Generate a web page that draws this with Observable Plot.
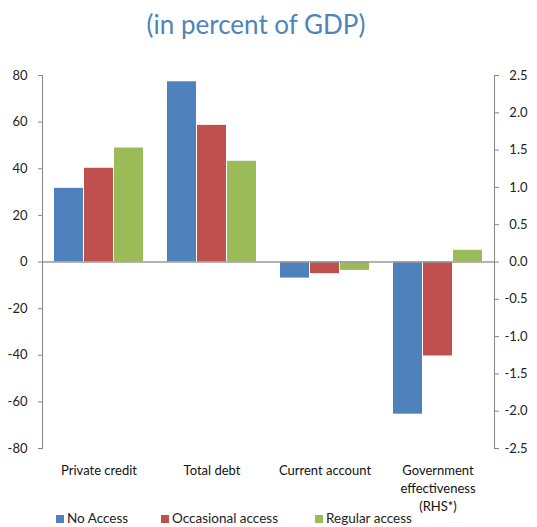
<!DOCTYPE html>
<html>
<head>
<meta charset="utf-8">
<script src="https://cdn.jsdelivr.net/npm/d3@7"></script>
<script src="https://cdn.jsdelivr.net/npm/@observablehq/plot@0.6"></script>
<style>
  body { margin: 0; background: #fff; font-family: Lato, "Open Sans", sans-serif; }
  #wrap { width: 537px; height: 527px; position: relative; overflow: hidden; }
  #title { height: 51px; box-sizing: border-box; padding-top: 4px; padding-right: 25px; line-height: 40px; text-align: center; font-size: 26px; color: #4f84bb; }
  #chart { position: absolute; top: 51px; left: 0; }
  #legend { position: absolute; top: 510px; left: 0; width: 537px; height: 17px; font-size: 13.5px; color: #222; }
  .item { position: absolute; top: 0; line-height: 17px; white-space: nowrap; }
  .sw { display: inline-block; width: 8px; height: 8px; margin-right: 3px; vertical-align: 0px; }
</style>
</head>
<body>
<div id="wrap">
  <div id="title">(in percent of GDP)</div>
  <div id="chart"></div>
  <div id="legend"></div>
</div>
<script>
const categories = ["Private credit", "Total debt", "Current account", "Government effectiveness (RHS*)"];
const categoryLabels = ["Private credit", "Total debt", "Current account", "Government\neffectiveness\n(RHS*)"];
const onRightAxis = [false, false, false, true];
const series = ["No Access", "Occasional access", "Regular access"];
const colors = ["#4F81BD", "#C0504D", "#9BBB59"];
const noAccess = [31.6, 77.3, -6.9, -2.04];
const occasionalAccess = [40.2, 58.6, -5.0, -1.26];
const regularAccess = [48.9, 43.2, -3.6, 0.157];
const leftTicks = [-80, -60, -40, -20, 0, 20, 40, 60, 80];
const rightTicks = [-2.5, -2.0, -1.5, -1.0, -0.5, 0.0, 0.5, 1.0, 1.5, 2.0, 2.5];
const leftMax = 80, rightMax = 2.5;
const k = leftMax / rightMax;

const seriesValues = [noAccess, occasionalAccess, regularAccess];
const rows = [];
categories.forEach((c, i) => {
  series.forEach((s, j) => {
    const v = seriesValues[j][i];
    rows.push({cat: c, series: s, value: onRightAxis[i] ? v * k : v});
  });
});

const axisGray = "#868686";
const chart = Plot.plot({
  width: 537,
  height: 476,
  marginTop: 24,
  marginBottom: 79,
  marginLeft: 41,
  marginRight: 43,
  style: {fontFamily: "Lato, 'Open Sans', sans-serif", fontSize: "13px", color: "#222", background: "transparent"},
  fx: {domain: categories, paddingInner: 0, paddingOuter: 0, padding: 0, label: null},
  x: {domain: series, paddingInner: 0.03, paddingOuter: 0.35, axis: null},
  y: {domain: [-leftMax, leftMax], label: null},
  color: {domain: series, range: colors},
  marks: [
    Plot.barY(rows, {fx: "cat", x: "series", y: "value", fill: "series"}),
    Plot.ruleY([0], {stroke: "#9a9a9a", strokeWidth: 1.5}),
    Plot.frame({anchor: "left", facetAnchor: "left", stroke: axisGray}),
    Plot.frame({anchor: "right", facetAnchor: "right", stroke: axisGray}),
    Plot.axisY(leftTicks, {anchor: "left", tickSize: 4, tickPadding: 11, stroke: axisGray, fill: "#222", tickFormat: d => String(d), label: null}),
    Plot.axisY(rightTicks.map(t => t * k), {anchor: "right", tickSize: 4, tickPadding: 29, textAnchor: "end", stroke: axisGray, fill: "#222", tickFormat: d => (d / k).toFixed(1), label: null}),
    Plot.axisFx({anchor: "bottom", tickSize: 0, tickPadding: 14, lineHeight: 1.38, fill: "#111", tickFormat: d => categoryLabels[categories.indexOf(d)], label: null})
  ]
});
document.getElementById("chart").appendChild(chart);

const legend = document.getElementById("legend");
const legendLeft = [56, 161, 315];
series.forEach((s, j) => {
  const it = document.createElement("div");
  it.className = "item";
  it.style.left = legendLeft[j] + "px";
  it.innerHTML = `<span class="sw" style="background:${colors[j]}"></span>${s}`;
  legend.appendChild(it);
});
</script>
</body>
</html>
